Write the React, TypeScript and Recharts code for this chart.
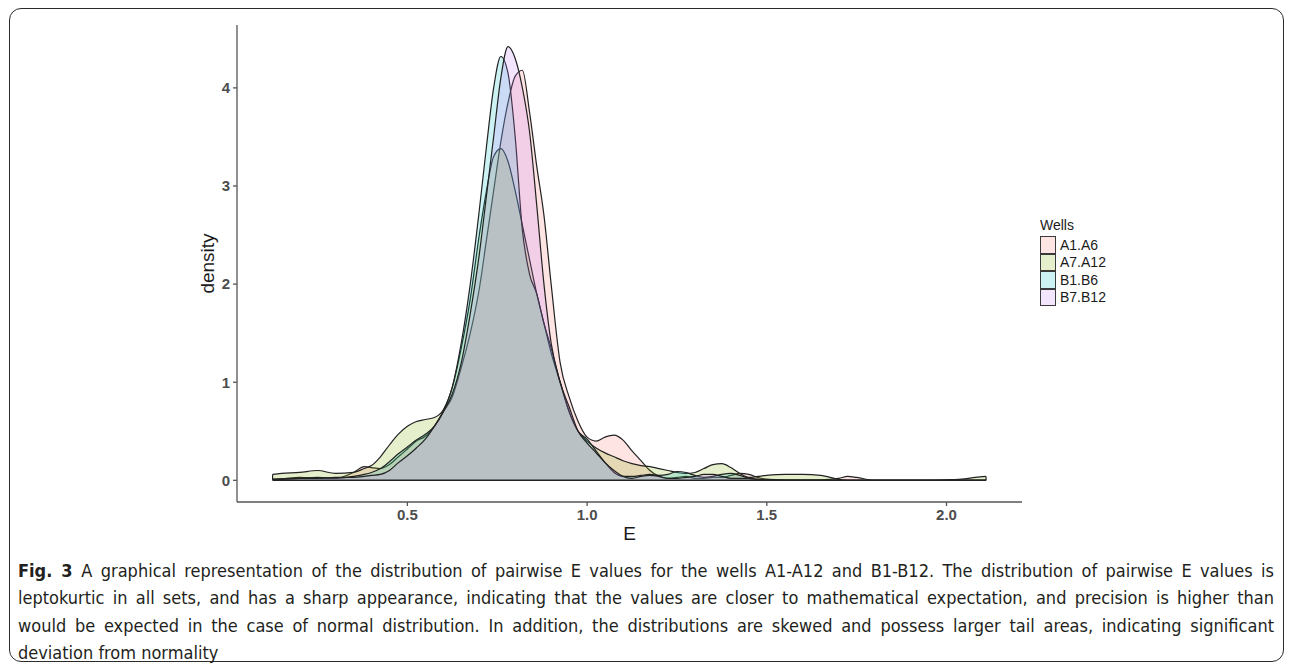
import React from 'react';
import { ComposedChart, Area, XAxis, YAxis, ReferenceLine } from 'recharts';

// density curves of pairwise E values
const xValues = [
  0.125, 0.15, 0.2, 0.25, 0.3, 0.35, 0.38, 0.4, 0.425, 0.45, 0.475, 0.5, 0.525, 0.55, 0.575, 0.6,
  0.625, 0.65, 0.675, 0.7, 0.72, 0.74, 0.76, 0.78, 0.8, 0.82, 0.84, 0.86, 0.88, 0.9, 0.925, 0.95,
  0.975, 1.0, 1.025, 1.05, 1.075, 1.1, 1.125, 1.15, 1.175, 1.2, 1.225, 1.25, 1.275, 1.3, 1.325, 1.35,
  1.375, 1.4, 1.425, 1.45, 1.475, 1.5, 1.55, 1.6, 1.65, 1.7, 1.725, 1.75, 1.8, 1.85, 1.9, 1.95,
  2.0, 2.05, 2.08, 2.11,
];

const a1a6 = [
  0.01, 0.015, 0.03, 0.02, 0.02, 0.08, 0.14, 0.13, 0.12, 0.16, 0.24, 0.32, 0.4, 0.45, 0.55, 0.7,
  0.85, 1.15, 1.5, 1.95, 2.45, 2.95, 3.45, 3.85, 4.12, 4.18, 3.75, 3.2, 2.7, 2.0, 1.2, 0.85,
  0.6, 0.44, 0.4, 0.44, 0.46, 0.41, 0.3, 0.2, 0.1, 0.04, 0.02, 0.03, 0.04, 0.02, 0.02, 0.03,
  0.03, 0.05, 0.07, 0.06, 0.03, 0.01, 0.005, 0.005, 0.005, 0.02, 0.04, 0.03, 0, 0, 0, 0,
  0, 0, 0, 0,
];

const a7a12 = [
  0.06, 0.07, 0.08, 0.1, 0.07, 0.08, 0.12, 0.15, 0.24, 0.36, 0.47, 0.55, 0.6, 0.62, 0.64, 0.72,
  0.95, 1.35, 1.85, 2.5, 2.95, 3.3, 3.38, 3.25, 2.95, 2.6, 2.25, 1.9, 1.6, 1.3, 1.0, 0.7,
  0.5, 0.4, 0.33, 0.28, 0.24, 0.2, 0.17, 0.15, 0.14, 0.12, 0.1, 0.08, 0.07, 0.08, 0.12, 0.16,
  0.17, 0.13, 0.07, 0.03, 0.04, 0.05, 0.06, 0.06, 0.05, 0.01, 0, 0, 0, 0, 0, 0,
  0.005, 0.015, 0.03, 0.04,
];

const b1b6 = [
  0.01, 0.015, 0.02, 0.03, 0.02, 0.04, 0.06, 0.08, 0.12, 0.19, 0.27, 0.34, 0.41, 0.47, 0.55, 0.7,
  0.95, 1.4, 2.0, 2.75, 3.4, 4.0, 4.32, 4.15, 3.5, 2.55, 2.1, 1.9, 1.6, 1.35, 1.0, 0.7,
  0.5, 0.42, 0.3, 0.18, 0.08, 0.04, 0.04, 0.05, 0.06, 0.05, 0.06, 0.09, 0.08, 0.05, 0.03, 0.04,
  0.06, 0.07, 0.05, 0.02, 0.01, 0.005, 0, 0, 0, 0, 0, 0, 0, 0, 0, 0,
  0, 0, 0, 0,
];

const b7b12 = [
  0.01, 0.01, 0.02, 0.02, 0.03, 0.03, 0.04, 0.05, 0.06, 0.1, 0.18, 0.25, 0.33, 0.42, 0.55, 0.7,
  0.88, 1.2, 1.7, 2.3, 2.9, 3.5, 4.1, 4.42, 4.3, 4.0, 3.55, 2.8, 2.0, 1.4, 1.0, 0.75,
  0.5, 0.38, 0.28, 0.18, 0.1, 0.04, 0.02, 0.04, 0.05, 0.04, 0.02, 0.02, 0.03, 0.04, 0.06, 0.06,
  0.04, 0.02, 0.02, 0.02, 0.01, 0.01, 0, 0, 0, 0, 0, 0, 0, 0, 0, 0,
  0, 0, 0, 0,
];

const wells = ['A1.A6', 'A7.A12', 'B1.B6', 'B7.B12'];
const wellColors = ['#F8766D', '#7CAE00', '#00BFC4', '#C77CFF'];
const xTicks = [0.5, 1.0, 1.5, 2.0];
const yTicks = [0, 1, 2, 3, 4];

const caption = [
  'A graphical representation of the distribution of pairwise E values for the wells A1-A12 and B1-B12. The distribution of pairwise E values is',
  'leptokurtic in all sets, and has a sharp appearance, indicating that the values are closer to mathematical expectation, and precision is higher than',
  'would be expected in the case of normal distribution. In addition, the distributions are skewed and possess larger tail areas, indicating significant',
  'deviation from normality',
];

const seriesValues = [a1a6, a7a12, b1b6, b7b12];
const seriesKey = (name: string) => name.replace('.', '_');

const chartData = xValues.map((x, i) => {
  const row: Record<string, number> = { x };
  wells.forEach((w, k) => {
    row[seriesKey(w)] = seriesValues[k][i];
  });
  return row;
});

const FONT = '"Liberation Sans", Arial, Helvetica, sans-serif';
const tickStyle = { fill: '#4d4d4d', fontSize: 15, fontWeight: 'bold' as const, fontFamily: FONT };

const xFirst = xValues[0];
const xLast = xValues[xValues.length - 1];
const leftEdge = Math.max(...seriesValues.map((s) => s[0]));
const rightEdge = Math.max(...seriesValues.map((s) => s[s.length - 1]));

const App = () => {
  return (
    <div style={{ position: 'absolute', left: 0, top: 0, width: 1290, height: 666, background: '#fff' }}>
      <div
        style={{
          position: 'absolute',
          left: 9,
          top: 8,
          width: 1275,
          height: 654,
          boxSizing: 'border-box',
          border: '1.5px solid #2b2b2b',
          borderRadius: 12,
        }}
      />
      <div style={{ position: 'absolute', left: 0, top: 0 }}>
        <ComposedChart
          width={1290}
          height={560}
          data={chartData}
          margin={{ top: 25, right: 268, bottom: 18, left: 177 }}
        >
          <XAxis
            type="number"
            dataKey="x"
            domain={[0.026, 2.21]}
            ticks={xTicks}
            allowDataOverflow
            tickFormatter={(v: number) => v.toFixed(1)}
            height={40}
            tickSize={4}
            tickMargin={3}
            stroke="#555"
            strokeWidth={1.3}
            tick={tickStyle}
            label={{
              value: 'E',
              position: 'center',
              dy: 11,
              style: { fill: '#1a1a1a', fontSize: 19, fontFamily: FONT },
            }}
          />
          <YAxis
            type="number"
            domain={[-0.221, 4.641]}
            ticks={yTicks}
            allowDataOverflow
            width={60}
            tickSize={4}
            tickMargin={3}
            stroke="#555"
            strokeWidth={1.3}
            tick={tickStyle}
            label={{
              value: 'density',
              angle: -90,
              position: 'center',
              style: { fill: '#1a1a1a', fontSize: 19, fontFamily: FONT },
            }}
          />
          {wells.map((w, k) => (
            <Area
              key={w}
              name={w}
              dataKey={seriesKey(w)}
              type="monotone"
              baseValue={0}
              fill={wellColors[k]}
              fillOpacity={0.2}
              stroke="#222"
              strokeWidth={1.2}
              dot={false}
              activeDot={false}
              isAnimationActive={false}
            />
          ))}
          <ReferenceLine
            segment={[
              { x: xFirst, y: 0 },
              { x: xLast, y: 0 },
            ]}
            stroke="#222"
            strokeWidth={1.4}
          />
          <ReferenceLine
            segment={[
              { x: xFirst, y: 0 },
              { x: xFirst, y: leftEdge },
            ]}
            stroke="#222"
            strokeWidth={1.2}
          />
          <ReferenceLine
            segment={[
              { x: xLast, y: 0 },
              { x: xLast, y: rightEdge },
            ]}
            stroke="#222"
            strokeWidth={1.2}
          />
        </ComposedChart>
      </div>

      {/* legend */}
      <div style={{ position: 'absolute', left: 1040, top: 215, fontFamily: FONT, color: '#1a1a1a' }}>
        <div style={{ fontSize: 14, height: 21, lineHeight: '21px' }}>Wells</div>
        {wells.map((w, k) => (
          <div key={w} style={{ display: 'flex', alignItems: 'center', height: 17.5 }}>
            <div
              style={{
                width: 16,
                height: 17.5,
                boxSizing: 'border-box',
                border: '1.4px solid #3a3a3a',
                position: 'relative',
                background: '#fff',
              }}
            >
              <div style={{ position: 'absolute', inset: 0, background: wellColors[k], opacity: 0.2 }} />
            </div>
            <span style={{ marginLeft: 4, fontSize: 14 }}>{w}</span>
          </div>
        ))}
      </div>

      {/* caption */}
      <div
        style={{
          position: 'absolute',
          left: 18,
          top: 557,
          width: 1256,
          fontFamily: '"Liberation Sans Narrow", "DejaVu Sans Condensed", "Liberation Sans", sans-serif',
          fontSize: 18,
          lineHeight: '27.3px',
          color: '#231f20',
        }}
      >
        {caption.map((line, i) => (
          <div
            key={i}
            style={{
              whiteSpace: 'nowrap',
              textAlign: 'justify',
              textAlignLast: i < caption.length - 1 ? 'justify' : 'left',
            }}
          >
            {i === 0 && <b>Fig. 3 </b>}
            {line}
          </div>
        ))}
      </div>
    </div>
  );
};

export default App;
